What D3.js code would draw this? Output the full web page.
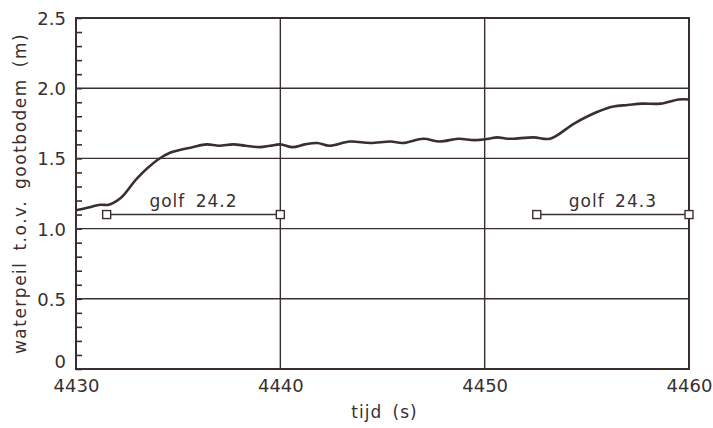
<!DOCTYPE html>
<html>
<head>
<meta charset="utf-8">
<script src="https://cdn.jsdelivr.net/npm/d3@7"></script>
<style>
  html, body { margin: 0; padding: 0; background: #fff; }
  svg text { font-family: "DejaVu Sans", sans-serif; fill: #3a2f30; }
</style>
</head>
<body>
<svg id="chart" width="713" height="428"></svg>
<script>
// Water level record (time in s, level in m)
const times  = [4430.0, 4430.6, 4431.2, 4431.6, 4432.2, 4433.0, 4434.0, 4434.6, 4435.7,
                4436.4, 4437.0, 4437.7, 4438.3, 4439.0, 4439.5, 4440.0, 4440.6, 4441.2, 4441.8,
                4442.4, 4443.4, 4444.4, 4445.4, 4446.0, 4447.0, 4447.8, 4448.7, 4449.5, 4450.2,
                4450.6, 4451.1, 4451.4, 4452.4, 4453.2, 4454.4, 4455.5, 4456.3, 4457.0, 4457.7,
                4458.6, 4459.5, 4460.0];
const levels = [1.13, 1.15, 1.17, 1.17, 1.22, 1.36, 1.49, 1.54, 1.58,
                1.60, 1.59, 1.60, 1.59, 1.58, 1.59, 1.60, 1.58, 1.60, 1.61,
                1.59, 1.62, 1.61, 1.62, 1.61, 1.64, 1.62, 1.64, 1.63, 1.64,
                1.65, 1.64, 1.64, 1.65, 1.64, 1.75, 1.83, 1.87, 1.88, 1.89,
                1.89, 1.92, 1.92];

// Wave intervals marked below the record
const waveNames  = ["golf 24.2", "golf 24.3"];
const waveStart  = [4431.5, 4452.55];
const waveEnd    = [4440.0, 4460.0];
const waveLevel  = [1.1, 1.1];

const xTicks = [4430, 4440, 4450, 4460];
const yTicks = [0, 0.5, 1.0, 1.5, 2.0, 2.5];
const yTickLabels = ["0", "0.5", "1.0", "1.5", "2.0", "2.5"];
const yMinor = d3.range(0, 2.5001, 0.1);

const ink = "#3a2f30";
const svg = d3.select("#chart");
const m = { left: 76, right: 24, top: 18, bottom: 59 };
const W = 713, H = 428;

const x = d3.scaleLinear().domain([4430, 4460]).range([m.left, W - m.right]);
const y = d3.scaleLinear().domain([0, 2.5]).range([H - m.bottom, m.top]);

// Grid lines at major ticks
const grid = svg.append("g").attr("stroke", ink).attr("stroke-width", 1.4);
grid.selectAll("line.h").data(yTicks).join("line")
  .attr("x1", x.range()[0]).attr("x2", x.range()[1])
  .attr("y1", d => y(d)).attr("y2", d => y(d));
grid.selectAll("line.v").data(xTicks).join("line")
  .attr("y1", y.range()[0]).attr("y2", y.range()[1])
  .attr("x1", d => x(d)).attr("x2", d => x(d));

// Minor ticks on the left axis, pointing inwards
svg.append("g").attr("transform", `translate(${m.left},0)`)
  .call(d3.axisRight(y).tickValues(yMinor).tickSize(6).tickFormat(""))
  .call(g => g.select(".domain").remove())
  .call(g => g.selectAll("line").attr("stroke", ink).attr("stroke-width", 1.6));

// Frame
svg.append("rect")
  .attr("x", x.range()[0]).attr("y", y.range()[1])
  .attr("width", x.range()[1] - x.range()[0])
  .attr("height", y.range()[0] - y.range()[1])
  .attr("fill", "none").attr("stroke", ink).attr("stroke-width", 2);

// Tick labels
const yAxis = svg.append("g").attr("transform", `translate(${m.left},0)`)
  .call(d3.axisLeft(y).tickValues(yTicks).tickSize(0).tickPadding(10)
        .tickFormat((d, i) => yTickLabels[i]));
yAxis.select(".domain").remove();
yAxis.selectAll("text").attr("font-size", 18).attr("font-family", "DejaVu Sans, sans-serif")
  .attr("fill", ink).attr("dy", d => d === 0 ? "-0.1em" : "0.36em");

const xAxis = svg.append("g").attr("transform", `translate(0,${y.range()[0]})`)
  .call(d3.axisBottom(x).tickValues(xTicks).tickSize(0).tickPadding(10).tickFormat(d3.format("d")));
xAxis.select(".domain").remove();
xAxis.selectAll("text").attr("font-size", 18).attr("font-family", "DejaVu Sans, sans-serif").attr("fill", ink);

// Axis titles
svg.append("text").attr("x", (x.range()[0] + x.range()[1]) / 2 + 2).attr("y", 418)
  .attr("text-anchor", "middle").attr("font-size", 17)
  .attr("letter-spacing", 1).attr("word-spacing", 4).text("tijd (s)");
svg.append("text")
  .attr("transform", `translate(26,${(y.range()[0] + y.range()[1]) / 2}) rotate(-90)`)
  .attr("text-anchor", "middle").attr("font-size", 17)
  .attr("letter-spacing", 1.5).attr("word-spacing", 4)
  .text("waterpeil t.o.v. gootbodem (m)");

// Water level line
const line = d3.line().x((d, i) => x(times[i])).y(d => y(d)).curve(d3.curveCatmullRom.alpha(0.5));
svg.append("path").datum(levels)
  .attr("d", line).attr("fill", "none").attr("stroke", ink)
  .attr("stroke-width", 2.6).attr("stroke-linejoin", "round");

// Wave interval markers
const waves = svg.append("g");
waveNames.forEach((name, i) => {
  const g = waves.append("g");
  const yy = y(waveLevel[i]);
  g.append("line").attr("x1", x(waveStart[i])).attr("x2", x(waveEnd[i]))
    .attr("y1", yy).attr("y2", yy).attr("stroke", ink).attr("stroke-width", 1.4);
  [waveStart[i], waveEnd[i]].forEach(t => {
    g.append("rect").attr("x", x(t) - 4).attr("y", yy - 4).attr("width", 8).attr("height", 8)
      .attr("fill", "#fff").attr("stroke", ink).attr("stroke-width", 1.4);
  });
  g.append("text").attr("x", (x(waveStart[i]) + x(waveEnd[i])) / 2).attr("y", yy - 8)
    .attr("text-anchor", "middle").attr("font-size", 17)
    .attr("letter-spacing", 1).attr("word-spacing", 4).text(name);
});
</script>
</body>
</html>
